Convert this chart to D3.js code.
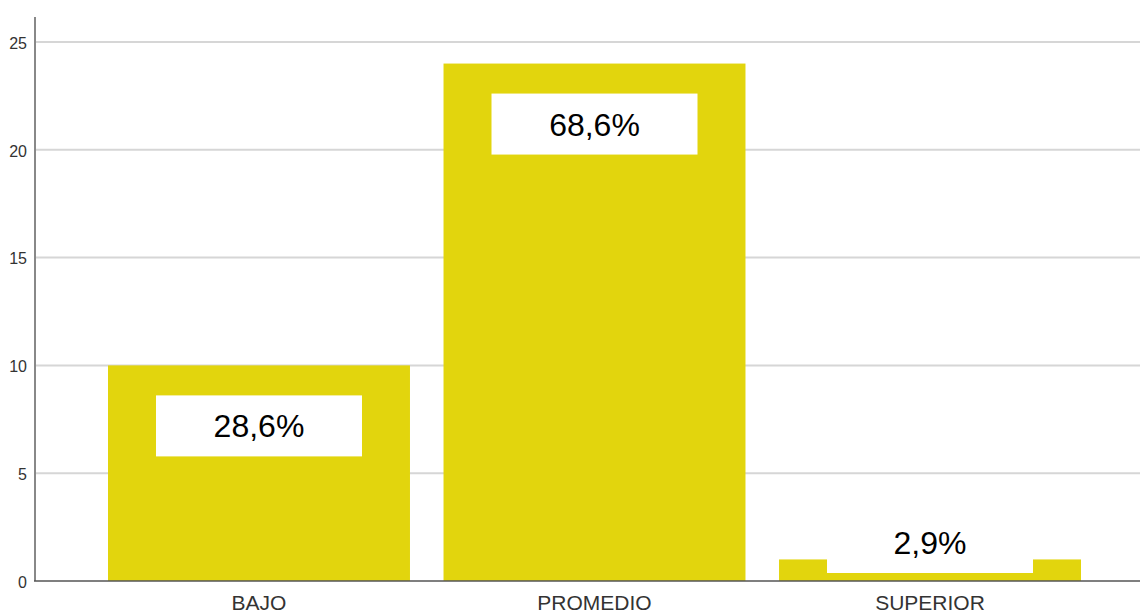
<!DOCTYPE html>
<html>
<head>
<meta charset="utf-8">
<script src="https://cdn.jsdelivr.net/npm/d3@7"></script>
<style>
  body { margin: 0; background: #fff; }
  svg { display: block; }
</style>
</head>
<body>
<script>
const categories = ["BAJO", "PROMEDIO", "SUPERIOR"];
const counts = [10, 24, 1];
const percentLabels = ["28,6%", "68,6%", "2,9%"];
const yTicks = [0, 5, 10, 15, 20, 25];

const width = 1140;
const height = 614;
const axisX = 35;
const baseY = 581;

const svg = d3.select("body").append("svg")
  .attr("width", width)
  .attr("height", height);

const x = d3.scaleBand()
  .domain(categories)
  .range([axisX, 1154])
  .paddingInner(0.1)
  .paddingOuter(0.2176);

const y = d3.scaleLinear()
  .domain([0, 25])
  .range([baseY, 42]);

// grid lines
svg.append("g")
  .selectAll("line")
  .data(yTicks.filter(d => d > 0))
  .join("line")
  .attr("x1", axisX)
  .attr("x2", width)
  .attr("y1", d => y(d))
  .attr("y2", d => y(d))
  .attr("stroke", "#d6d6d6")
  .attr("stroke-width", 2);

// tick labels
svg.append("g")
  .selectAll("text")
  .data(yTicks)
  .join("text")
  .attr("x", 27)
  .attr("y", d => y(d) + 1)
  .attr("dy", "0.36em")
  .attr("text-anchor", "end")
  .attr("font-family", "Liberation Sans, Arial, sans-serif")
  .attr("font-size", 16)
  .attr("fill", "#333")
  .text(d => d);

// bars
svg.append("g")
  .selectAll("rect")
  .data(categories)
  .join("rect")
  .attr("x", d => x(d))
  .attr("width", x.bandwidth())
  .attr("y", (d, i) => y(counts[i]))
  .attr("height", (d, i) => baseY - y(counts[i]))
  .attr("fill", "#e2d50d");

// label boxes
const boxW = 206, boxH = 61;
function boxTop(i) {
  return Math.min(y(counts[i]) + 30, baseY - 8 - boxH);
}
const labels = svg.append("g")
  .selectAll("g")
  .data(categories)
  .join("g");

labels.append("rect")
  .attr("x", d => x(d) + x.bandwidth() / 2 - boxW / 2)
  .attr("y", (d, i) => boxTop(i))
  .attr("width", boxW)
  .attr("height", boxH)
  .attr("fill", "#fff");

labels.append("text")
  .attr("x", d => x(d) + x.bandwidth() / 2)
  .attr("y", (d, i) => boxTop(i) + boxH / 2)
  .attr("dy", "0.36em")
  .attr("text-anchor", "middle")
  .attr("font-family", "Liberation Sans, Arial, sans-serif")
  .attr("font-size", 32)
  .attr("fill", "#000")
  .text((d, i) => percentLabels[i]);

// axes lines
svg.append("line")
  .attr("x1", axisX).attr("x2", axisX)
  .attr("y1", 17).attr("y2", baseY)
  .attr("stroke", "#888")
  .attr("stroke-width", 2);

svg.append("line")
  .attr("x1", axisX - 1).attr("x2", width)
  .attr("y1", baseY).attr("y2", baseY)
  .attr("stroke", "#555")
  .attr("stroke-width", 1.5);

// category labels
svg.append("g")
  .selectAll("text")
  .data(categories)
  .join("text")
  .attr("x", d => x(d) + x.bandwidth() / 2)
  .attr("y", 610)
  .attr("text-anchor", "middle")
  .attr("font-family", "Liberation Sans, Arial, sans-serif")
  .attr("font-size", 21)
  .attr("fill", "#333")
  .text(d => d);
</script>
</body>
</html>
